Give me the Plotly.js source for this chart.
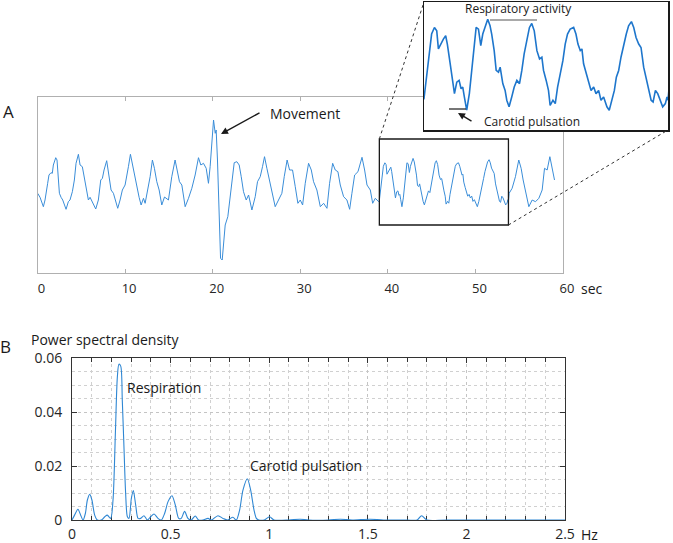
<!DOCTYPE html>
<html>
<head>
<meta charset="utf-8">
<script src="https://cdn.plot.ly/plotly-3.0.1.min.js"></script>
<style>
  body { margin: 0; background: #fff; }
  #chart { width: 673px; height: 543px; }
</style>
</head>
<body>
<div id="chart"></div>
<script>
// panel A: signal (time in sec, amplitude in arbitrary units)
const timeSec = [0.02,0.29,0.67,0.86,1.16,1.31,1.54,1.69,1.81,2.08,2.23,2.38,2.5,2.69,2.88,3.26,3.52,3.71,3.98,4.21,
  4.4,4.67,4.86,5.12,5.35,5.62,5.81,6.0,6.27,6.65,6.95,7.22,7.41,7.6,7.9,8.1,8.4,8.67,8.86,9.16,
  9.43,9.69,10.0,10.19,10.38,10.61,10.84,11.07,11.33,11.6,11.83,12.1,12.29,12.59,12.86,13.12,13.35,13.62,13.89,14.19,
  14.5,14.95,15.33,15.71,15.98,16.21,16.48,16.86,17.24,17.62,18.0,18.38,18.65,18.95,19.26,19.52,19.71,19.98,20.1,20.29,
  20.4,20.55,20.74,20.9,21.09,21.24,21.43,21.73,22.0,22.27,22.46,22.76,23.03,23.26,23.52,23.83,24.1,24.48,24.86,25.12,
  25.43,25.69,25.92,26.19,26.49,26.76,27.14,27.52,27.9,28.17,28.5,28.78,29.12,29.43,29.73,30.0,30.27,30.57,30.95,31.26,
  31.52,31.9,32.29,32.67,33.05,33.35,33.7,34.0,34.3,34.57,34.95,35.33,35.64,35.9,36.21,36.59,36.86,37.05,37.35,37.62,
  38.0,38.27,38.57,38.95,
  39.03,39.19,39.35,39.49,39.66,39.80,39.90,40.04,40.20,40.34,40.44,40.60,40.76,40.87,41.01,41.15,41.27,41.37,41.47,41.61,
  41.77,41.91,42.06,42.18,42.32,42.46,42.58,42.72,42.88,43.02,43.12,43.27,43.39,43.53,43.63,43.79,43.93,44.03,44.17,44.33,
  44.48,44.64,44.80,44.94,45.08,45.24,45.40,45.54,45.69,45.85,46.01,46.15,46.25,46.41,46.55,46.65,46.82,46.96,47.10,47.26,
  47.42,47.56,47.70,47.86,48.07,48.21,48.33,48.47,48.57,48.67,48.83,48.97,49.12,49.28,49.42,49.58,49.72,49.88,50.08,50.22,
  50.39,50.53,50.65,50.79,50.93,51.09,51.25,51.39,51.56,51.70,51.84,52.00,52.14,52.30,52.44,52.60,52.75,52.87,53.01,53.15,
  53.31,53.45,53.61,53.71,53.77,
  53.85,54.19,54.57,54.95,55.22,55.45,55.71,56.1,56.48,56.86,57.24,57.62,57.89,58.19,58.5,58.76,59.03];
const signal = [0.17,-0.23,-1.17,-0.5,1.17,2.0,2.23,2.17,3.0,3.73,3.5,1.83,0.17,-0.23,-0.5,-1.43,-0.67,-0.5,0.33,1.5,
  3.17,4.07,3.0,2.83,1.67,0.5,-0.5,-0.23,-0.67,-1.4,-0.5,1.5,1.67,2.5,3.43,2.17,0.5,0.17,-0.33,-1.33,
  -0.5,0.5,1.0,1.83,2.83,4.07,3.0,2.0,0.83,-0.23,-1.0,-0.33,-0.83,0.5,1.83,3.5,2.67,1.33,0.5,-1.0,
  -0.2,-0.5,1.83,3.5,2.5,1.33,1.0,-1.17,-0.33,0.67,2.0,3.73,3.0,3.17,2.67,1.17,2.83,6.5,7.5,6.17,
  6.5,3.5,-0.83,-6.33,-6.5,-4.5,-3.0,-2.17,-0.17,2.33,3.23,3.33,3.0,1.83,0.33,-0.5,0.0,-1.5,-0.17,1.33,
  1.83,2.83,3.83,2.67,1.5,0.5,-1.17,-0.5,0.17,1.83,3.5,2.5,2.5,0.83,-0.83,-0.5,-1.0,1.17,3.17,2.5,
  1.33,0.5,-1.17,-0.83,-1.33,1.17,3.17,2.5,2.33,1.0,-0.17,-0.5,-1.43,0.17,2.0,2.33,3.33,3.77,2.5,1.0,
  0.5,-0.83,-0.33,-0.67,
  -0.55,0.58,1.99,2.87,3.22,3.04,2.08,2.34,2.6,2.78,2.34,1.37,0.41,-0.29,0.32,0.41,-0.03,0.06,-0.47,-1.17,
  -0.29,0.94,2.34,3.22,3.13,2.25,2.87,3.22,3.66,3.31,2.87,1.99,0.94,0.85,1.11,0.24,-0.12,-0.64,-0.99,-0.47,
  0.06,0.41,0.24,0.94,1.82,2.52,3.22,3.43,3.04,1.99,1.55,1.64,0.94,0.41,-0.12,-0.91,-0.64,-0.82,0.06,0.76,
  1.46,2.34,2.87,3.13,3.22,2.87,2.34,1.99,2.08,1.29,0.76,0.24,-0.12,0.06,-0.29,-0.12,-0.64,-0.47,-0.99,-1.17,
  -0.64,-0.12,0.58,0.94,1.64,2.34,2.87,3.31,3.53,3.22,2.69,2.34,2.16,1.11,0.58,-0.12,-0.64,-0.73,-0.12,-0.29,
  -0.64,-0.99,-0.82,-0.47,-0.64,
  0.17,0.67,1.83,3.5,2.67,1.5,0.5,-1.17,-0.5,-0.67,-0.33,0.5,2.67,2.5,3.83,2.83,1.5];

// zoomed window shown in the inset
const zoomSec = [39.03, 53.77];
const zoomBoxAmp = [-3.0, 5.6];

// panel B: power spectral density
const freqHz = [0,0.0135,0.030,0.044,0.056,0.068,0.078,0.090,0.101,0.115,0.128,0.149,0.166,0.179,0.196,0.208,0.220,0.230,0.238,0.247,
  0.255,0.264,0.272,0.281,0.289,0.301,0.311,0.323,0.335,0.348,0.365,0.382,0.399,0.416,0.436,0.453,0.470,0.487,0.507,0.524,
  0.541,0.554,0.571,0.588,0.605,0.625,0.642,0.664,0.690,0.707,0.740,0.766,0.788,0.816,0.833,0.850,0.867,0.889,0.906,0.923,
  0.935,0.947,0.975,1.002,1.024,1.10,1.156,1.20,1.30,1.36,1.42,1.51,1.58,1.70,1.75,1.773,1.80,1.90,2.5];
const psd = [0,0.0019,0.0040,0.0018,0,0.0025,0.0074,0.0095,0.0074,0.0018,0,0,0.0012,0.0018,0.0006,0.0074,0.0321,0.0530,0.0577,0.0570,
  0.0444,0.0259,0.0099,0.0012,0.0006,0.0080,0.0109,0.0055,0.0006,0.0006,0.0016,0,0.0012,0.0022,0.0006,0,0.0025,0.0068,0.0090,0.0055,
  0.0006,0.0006,0.0032,0.0006,0,0.0015,0,0,0.0006,0,0.0016,0.0006,0,0.0010,0,0.0037,0.0111,0.0153,0.0111,0.0037,
  0.0006,0,0,0.0012,0,0,0.0003,0,0,0.0003,0,0.0003,0,0,0,0.0016,0,0,0];

const W = 673, H = 543;
const px = x => x / W;
const py = y => 1 - y / H;

const domA = { x: [px(37.5), px(563)], y: [py(273), py(97)] };
const domB = { x: [px(72), px(565)], y: [py(520), py(358)] };
const domI = { x: [px(424), px(668)], y: [py(130), py(2)] };
const rangeA = { x: [0, 60], y: [-7.8, 9.8] };
const rangeI = { y: [-2.22, 4.57] };

function toPaper(dom, range, v) {
    return dom[0] + (v - range[0]) / (range[1] - range[0]) * (dom[1] - dom[0]);
}

// text label placed at a pixel position of the picture
function label(text, x, y, size, xanchor) {
    return {
        xref: 'paper', yref: 'paper', x: px(x), y: py(y), text: text, showarrow: false,
        xanchor: xanchor || 'center', yanchor: 'middle',
        font: { size: size, color: '#1a1a1a' }
    };
}

function arrow(x, y, ax, ay) {
    return {
        xref: 'paper', yref: 'paper', x: px(x), y: py(y), ax: ax, ay: ay, text: '',
        showarrow: true, arrowhead: 2, arrowsize: 1, arrowwidth: 1.4, arrowcolor: '#1a1a1a'
    };
}

const textFont = 'Open Sans, Liberation Sans, sans-serif';

const traces = [
    {
        x: timeSec, y: signal, xaxis: 'x', yaxis: 'y',
        mode: 'lines', line: { color: '#3a8dd8', width: 1 }, hoverinfo: 'skip'
    },
    {
        x: timeSec, y: signal, xaxis: 'x3', yaxis: 'y3',
        mode: 'lines', line: { color: '#1e76cc', width: 1.6 }, hoverinfo: 'skip'
    },
    {
        x: freqHz, y: psd, xaxis: 'x2', yaxis: 'y2',
        mode: 'lines', line: { color: '#2f87d3', width: 1.1, shape: 'spline', smoothing: 0.8 }, hoverinfo: 'skip'
    }
];

const dotted = { color: '#333', width: 1, dash: 'dot' };

var layout = {
    width: W, height: H,
    margin: { l: 0, r: 0, t: 0, b: 0 },
    paper_bgcolor: '#fff', plot_bgcolor: '#fff',
    showlegend: false,
    font: { family: textFont, size: 13, color: '#262626' },
    xaxis: {
        domain: domA.x, range: rangeA.x, anchor: 'y',
        tick0: 0, dtick: 10, ticks: 'inside', ticklen: 4, tickcolor: '#b0b0b0',
        showline: true, linecolor: '#b0b0b0', mirror: 'ticks',
        showgrid: false, zeroline: false, ticklabelshift: 4, ticklabelstandoff: 3,
        tickfont: { size: 13 }
    },
    yaxis: {
        domain: domA.y, range: rangeA.y, anchor: 'x',
        showticklabels: false, ticks: '', showline: true, linecolor: '#b0b0b0', mirror: true,
        showgrid: false, zeroline: false
    },
    xaxis2: {
        domain: domB.x, range: [0, 2.5], anchor: 'y2',
        tick0: 0, dtick: 0.5, ticks: 'inside', ticklen: 5, tickcolor: '#333',
        showline: true, linecolor: '#333', mirror: 'ticks', layer: 'below traces',
        showgrid: true, gridcolor: '#c4c4c4', griddash: 'dot', zeroline: false,
        minor: { dtick: 0.1, ticks: 'inside', ticklen: 4, tickcolor: '#333',
                 showgrid: true, gridcolor: '#d0d0d0', griddash: 'dot' },
        ticklabelstandoff: 1,
        tickfont: { size: 14 }
    },
    yaxis2: {
        domain: domB.y, range: [0, 0.06], anchor: 'x2',
        tick0: 0, dtick: 0.02, ticks: 'inside', ticklen: 5, tickcolor: '#333',
        showline: true, linecolor: '#333', mirror: 'ticks', layer: 'below traces',
        showgrid: true, gridcolor: '#c4c4c4', griddash: 'dot', zeroline: false,
        minor: { dtick: 0.005, ticks: '', showgrid: true, gridcolor: '#d0d0d0', griddash: 'dot' },
        ticklabelstandoff: 6,
        tickfont: { size: 14 }
    },
    xaxis3: {
        domain: domI.x, range: zoomSec, anchor: 'y3',
        showticklabels: false, ticks: '', showline: true, linecolor: '#1a1a1a', linewidth: 1.5, mirror: true,
        showgrid: false, zeroline: false
    },
    yaxis3: {
        domain: domI.y, range: rangeI.y, anchor: 'x3',
        showticklabels: false, ticks: '', showline: true, linecolor: '#1a1a1a', linewidth: 1.5, mirror: true,
        showgrid: false, zeroline: false
    },
    shapes: [
        // white backing of the inset so panel A's frame does not show through
        { type: 'rect', xref: 'x3', yref: 'y3', layer: 'below',
          x0: zoomSec[0], x1: zoomSec[1], y0: rangeI.y[0], y1: rangeI.y[1],
          fillcolor: '#fff', line: { width: 0 } },
        { type: 'rect', xref: 'x', yref: 'y',
          x0: zoomSec[0], x1: zoomSec[1], y0: zoomBoxAmp[0], y1: zoomBoxAmp[1],
          line: { color: '#1a1a1a', width: 1.3 } },
        { type: 'line', xref: 'paper', yref: 'paper',
          x0: toPaper(domA.x, rangeA.x, zoomSec[0]), y0: toPaper(domA.y, rangeA.y, zoomBoxAmp[1]),
          x1: domI.x[0], y1: domI.y[1], line: dotted },
        { type: 'line', xref: 'paper', yref: 'paper',
          x0: toPaper(domA.x, rangeA.x, zoomSec[1]), y0: toPaper(domA.y, rangeA.y, zoomBoxAmp[0]),
          x1: domI.x[1], y1: domI.y[0], line: dotted },
        { type: 'line', xref: 'paper', yref: 'paper',
          x0: px(490), x1: px(537), y0: py(20), y1: py(20), line: { color: '#8c8c8c', width: 1.5 } },
        { type: 'line', xref: 'paper', yref: 'paper',
          x0: px(449), x1: px(466), y0: py(109), y1: py(109), line: { color: '#1a1a1a', width: 1.2 } }
    ],
    annotations: [
        label('A', 8, 111, 17),
        label('B', 5, 346, 17),
        label('Movement', 268, 113, 14, 'left'),
        arrow(221, 134, 40, -22),
        label('sec', 592, 288, 14),
        label('Hz', 589, 534, 14),
        label('Power spectral density', 29, 339, 14, 'left'),
        label('Respiration', 125, 387, 14, 'left'),
        label('Carotid pulsation', 248, 465, 14, 'left'),
        label('Respiratory activity', 518, 9, 12),
        label('Carotid pulsation', 482, 122, 12, 'left'),
        arrow(458, 113, 15, 9)
    ]
};

Plotly.newPlot('chart', traces, layout, { displayModeBar: false, staticPlot: true });
</script>
</body>
</html>
